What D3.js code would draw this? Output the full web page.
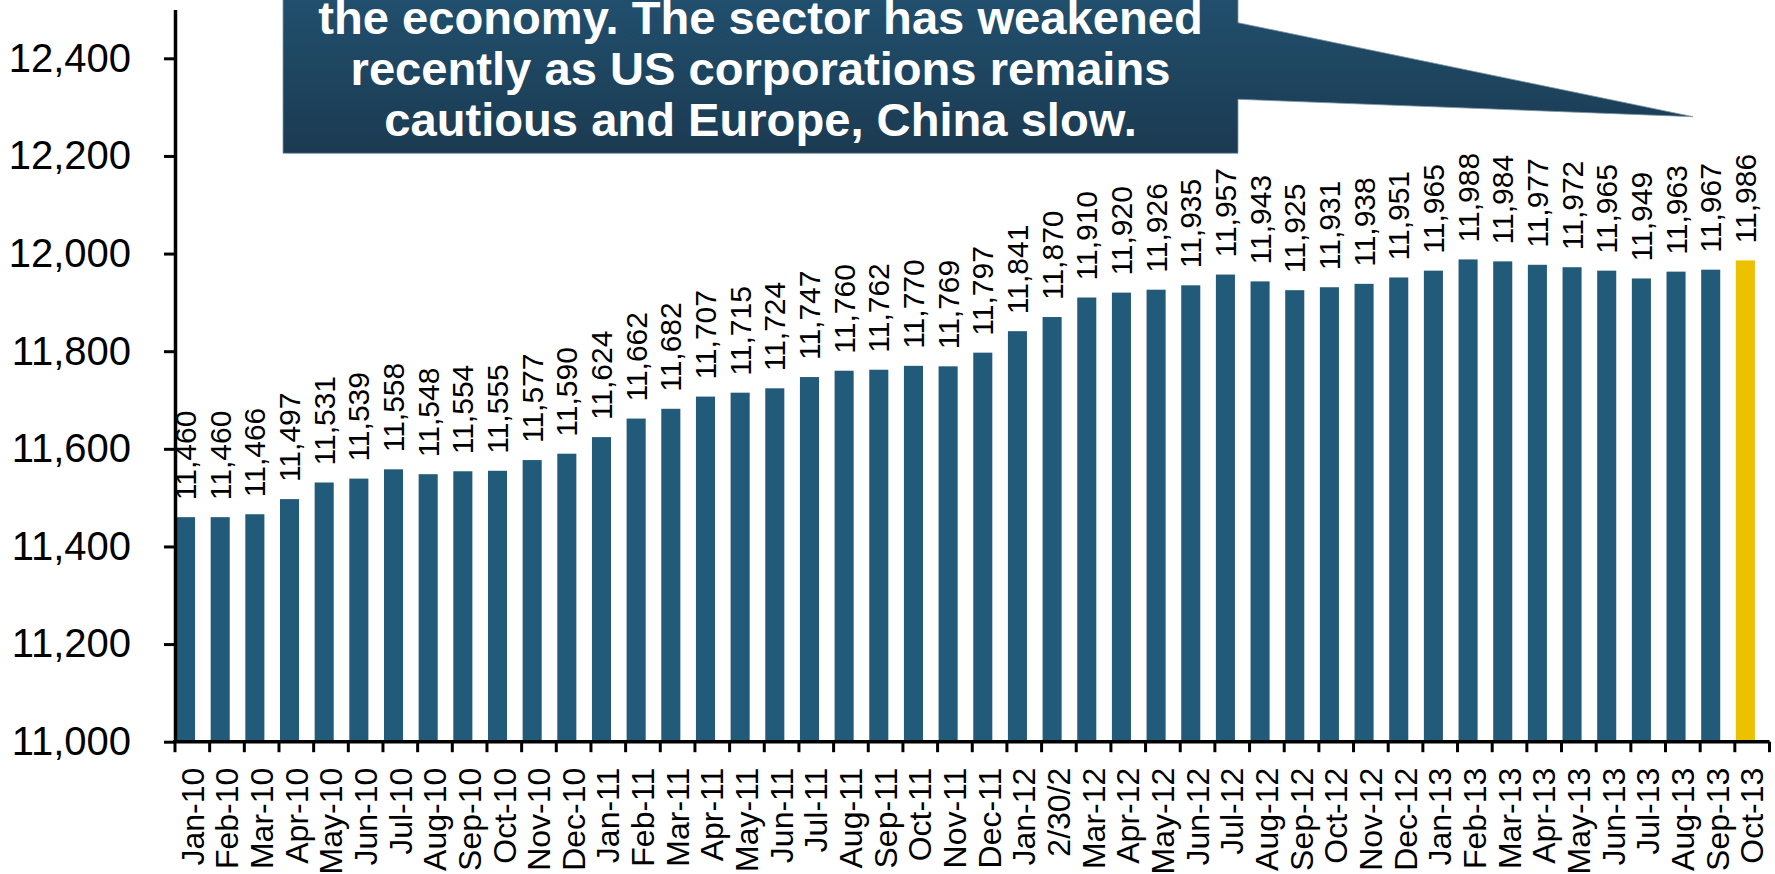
<!DOCTYPE html>
<html>
<head>
<meta charset="utf-8">
<script src="https://cdn.jsdelivr.net/npm/d3@7/dist/d3.min.js"></script>
<style>
  html, body { margin: 0; padding: 0; background: #ffffff; }
  svg { display: block; font-family: "Liberation Sans", Arial, Helvetica, sans-serif; }
</style>
</head>
<body>
<svg id="chart" width="1775" height="874"></svg>
<script>
// ---------------- DATA ----------------
const categories = [
  "Jan-10","Feb-10","Mar-10","Apr-10","May-10","Jun-10","Jul-10","Aug-10","Sep-10","Oct-10","Nov-10","Dec-10",
  "Jan-11","Feb-11","Mar-11","Apr-11","May-11","Jun-11","Jul-11","Aug-11","Sep-11","Oct-11","Nov-11","Dec-11",
  "Jan-12","2/30/2","Mar-12","Apr-12","May-12","Jun-12","Jul-12","Aug-12","Sep-12","Oct-12","Nov-12","Dec-12",
  "Jan-13","Feb-13","Mar-13","Apr-13","May-13","Jun-13","Jul-13","Aug-13","Sep-13","Oct-13"
];
const values = [
  11460,11460,11466,11497,11531,11539,11558,11548,11554,11555,11577,11590,
  11624,11662,11682,11707,11715,11724,11747,11760,11762,11770,11769,11797,
  11841,11870,11910,11920,11926,11935,11957,11943,11925,11931,11938,11951,
  11965,11988,11984,11977,11972,11965,11949,11963,11967,11986
];
const yTickValues = [11000, 11200, 11400, 11600, 11800, 12000, 12200, 12400];
const yDomain = [11000, 12500];
const highlightCategory = "Oct-13";
const calloutLines = [
  "the economy. The sector has weakened",
  "recently as US corporations remains",
  "cautious and Europe, China slow."
];

// ---------------- LAYOUT ----------------
const svg = d3.select("#chart");
const plotLeft = 175, plotRight = 1769.5, plotTop = 9.5, plotBottom = 741.7;
const barColor = "#225b7a", highlightColor = "#edc100";

const x = d3.scaleBand().domain(categories).range([plotLeft, plotRight]).padding(0);
const y = d3.scaleLinear().domain(yDomain).range([plotBottom, plotTop]);
const bw = x.bandwidth() * 0.55;

const data = categories.map((c, i) => ({ c, v: values[i] }));

// bars
svg.append("g").selectAll("rect").data(data).join("rect")
  .attr("x", d => x(d.c) + 1)
  .attr("y", d => y(d.v))
  .attr("width", bw)
  .attr("height", d => y(yDomain[0]) - y(d.v))
  .attr("fill", d => d.c === highlightCategory ? highlightColor : barColor);

// data labels
const fmt = d3.format(",");
svg.append("g").selectAll("text").data(data).join("text")
  .attr("transform", d => `translate(${x(d.c) + 1 + bw / 2},${y(d.v) - 17}) rotate(-90)`)
  .attr("dy", "0.35em")
  .attr("text-anchor", "start")
  .attr("font-size", 30)
  .attr("fill", "#000")
  .text(d => fmt(d.v));

// y axis
const yAxis = d3.axisLeft(y)
  .tickValues(yTickValues)
  .tickSize(11)
  .tickSizeOuter(0)
  .tickPadding(33)
  .tickFormat(fmt);
const gy = svg.append("g").attr("transform", `translate(${plotLeft},0)`).call(yAxis);
gy.select(".domain").attr("stroke", "#000").attr("stroke-width", 3.5);
gy.selectAll(".tick line").attr("stroke", "#000").attr("stroke-width", 3);
gy.selectAll(".tick text").attr("font-size", 40).attr("fill", "#000")
  .attr("font-family", "Liberation Sans, Arial, sans-serif");

// x axis line
svg.append("line")
  .attr("x1", plotLeft - 1.75).attr("x2", plotRight)
  .attr("y1", plotBottom).attr("y2", plotBottom)
  .attr("stroke", "#000").attr("stroke-width", 3.5);

// x boundary ticks
const boundaries = categories.map(c => x(c)).concat([x.range()[1]]);
svg.append("g").selectAll("line").data(boundaries).join("line")
  .attr("x1", d => d).attr("x2", d => d)
  .attr("y1", plotBottom).attr("y2", plotBottom + 10.5)
  .attr("stroke", "#000").attr("stroke-width", 3);

// category labels
svg.append("g").selectAll("text").data(categories).join("text")
  .attr("transform", c => `translate(${x(c) + x.bandwidth() / 2},${plotBottom + 26}) rotate(-90)`)
  .attr("dy", "0.35em")
  .attr("text-anchor", "end")
  .attr("font-size", 32)
  .attr("fill", "#000")
  .text(c => c);

// ---------------- CALLOUT ----------------
const defs = svg.append("defs");
const grad = defs.append("linearGradient").attr("id", "boxGrad")
  .attr("gradientUnits", "userSpaceOnUse")
  .attr("x1", 0).attr("y1", 0).attr("x2", 0).attr("y2", 154);
grad.append("stop").attr("offset", "0%").attr("stop-color", "#214f6d");
grad.append("stop").attr("offset", "100%").attr("stop-color", "#1b3a51");

const bx0 = 283, bx1 = 1238, by0 = -5, by1 = 153.3;
const callout = d3.path();
callout.moveTo(bx0, by0);
callout.lineTo(bx1, by0);
callout.lineTo(bx1, 22.7);
callout.lineTo(1693, 116.7);
callout.lineTo(bx1, 99.3);
callout.lineTo(bx1, by1);
callout.lineTo(bx0, by1);
callout.closePath();
svg.append("path").attr("d", callout.toString())
  .attr("fill", "url(#boxGrad)")
  .attr("stroke", "#7f97a8").attr("stroke-width", 0.8);

const baselines = [33.5, 85, 136];
svg.append("g").selectAll("text").data(calloutLines).join("text")
  .attr("transform", (d, i) => `translate(${(bx0 + bx1) / 2},${baselines[i]}) scale(1.025,1)`)
  .attr("text-anchor", "middle")
  .attr("font-size", 46)
  .attr("font-weight", "bold")
  .attr("fill", "#ffffff")
  .text(d => d);
</script>
</body>
</html>
